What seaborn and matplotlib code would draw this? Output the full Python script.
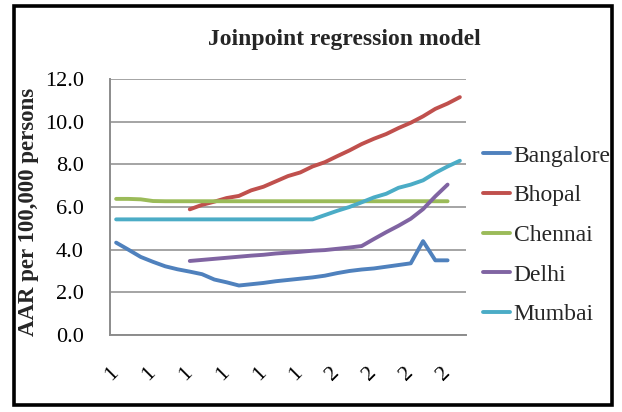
import matplotlib
matplotlib.use("Agg")
import matplotlib.pyplot as plt
import matplotlib.transforms as mtransforms
from matplotlib.patches import Rectangle
import seaborn as sns
import pandas as pd

# Registry years and axis labels
years = list(range(1982, 2011))
tick_years = years[::3]
tick_labels = ["1", "1", "1", "1", "1", "1", "2", "2", "2", "2"]
y_ticks = [0, 2, 4, 6, 8, 10, 12]

# Joinpoint-fitted age-adjusted rates (per 100,000) by registry
bangalore_start = 1982
bangalore = [4.33, 4.00, 3.66, 3.43, 3.22, 3.08, 2.97, 2.85, 2.60, 2.47,
             2.32, 2.38, 2.44, 2.52, 2.58, 2.64, 2.70, 2.78, 2.90, 3.00,
             3.07, 3.12, 3.20, 3.28, 3.36, 4.40, 3.50, 3.50]
bhopal_start = 1988
bhopal = [5.89, 6.10, 6.25, 6.42, 6.52, 6.78, 6.95, 7.20, 7.45, 7.62,
          7.90, 8.10, 8.38, 8.65, 8.95, 9.20, 9.42, 9.70, 9.95, 10.25,
          10.60, 10.85, 11.15]
chennai_start = 1982
chennai = [6.38, 6.38, 6.36, 6.28] + [6.27] * 24
delhi_start = 1988
delhi = [3.47, 3.52, 3.57, 3.62, 3.67, 3.72, 3.76, 3.82, 3.86, 3.90,
         3.95, 3.98, 4.04, 4.10, 4.17, 4.50, 4.82, 5.12, 5.45, 5.90,
         6.50, 7.05]
mumbai_start = 1982
mumbai = [5.42] * 17 + [5.62, 5.82, 6.00, 6.22, 6.45, 6.62, 6.90, 7.05,
                        7.25, 7.60, 7.90, 8.17]

registries = ["Bangalore", "Bhopal", "Chennai", "Delhi", "Mumbai"]
series = [(bangalore_start, bangalore), (bhopal_start, bhopal),
          (chennai_start, chennai), (delhi_start, delhi),
          (mumbai_start, mumbai)]
colors = ["#4F81BD", "#C0504D", "#9BBB59", "#8064A2", "#4BACC6"]

frames = []
for name, (start, vals) in zip(registries, series):
    frames.append(pd.DataFrame({
        "Year": list(range(start, start + len(vals))),
        "AAR": vals,
        "Registry": name,
    }))
df = pd.concat(frames, ignore_index=True)

sns.set_theme(style="white")
plt.rcParams["font.family"] = ["Liberation Serif", "DejaVu Serif"]

W, H = 622, 412
fig = plt.figure(figsize=(W / 100, H / 100), dpi=100)
ax = fig.add_axes([110 / W, 1 - 335 / H, (466 - 110) / W, (335 - 79) / H])

sns.lineplot(data=df, x="Year", y="AAR", hue="Registry",
             hue_order=registries, palette=colors, linewidth=2.8,
             ax=ax, legend=True)
for ln in ax.lines:
    ln.set_solid_capstyle("round")
    ln.set_solid_joinstyle("round")

ax.set_xlim(years[0] - 0.5, years[-1] + 0.5)
ax.set_ylim(0, 12)
ax.set_yticks(y_ticks)
ax.set_yticklabels([f"{v:.1f}" for v in y_ticks], fontsize=16)
ax.set_xticks(tick_years)
ax.set_xticklabels(tick_labels, fontsize=16, rotation=45,
                   ha="center", va="top")
ax.tick_params(axis="both", length=0, colors="black")
ax.tick_params(axis="x", pad=20)
ax.tick_params(axis="y", pad=19)
shift = mtransforms.ScaledTranslation(-4 / 100, 0, fig.dpi_scale_trans)
for lab in ax.get_xticklabels():
    lab.set_transform(lab.get_transform() + shift)

ax.yaxis.grid(True, color="#8C8C8C", linewidth=1.1)
ax.xaxis.grid(False)
for side in ["top", "right"]:
    ax.spines[side].set_visible(False)
for side in ["left", "bottom"]:
    ax.spines[side].set_color("#8C8C8C")
    ax.spines[side].set_linewidth(1.4)

ax.set_xlabel("")
ax.set_ylabel("AAR per 100,000 persons", fontsize=16.5, fontweight="bold")
ax.yaxis.set_label_coords(-(110 - 39) / (466 - 110), 0.48)

fig.text(344 / W, 1 - 40 / H, "Joinpoint regression model", fontsize=17,
         fontweight="bold", ha="center", va="center")

leg = ax.legend(loc="upper left", bbox_to_anchor=(483 / W, 1 - 145 / H),
                bbox_transform=fig.transFigure, frameon=False, fontsize=17,
                handlelength=1.15, handletextpad=0.15, labelspacing=0.77,
                borderpad=0, borderaxespad=0)
for h in leg.get_lines():
    h.set_linewidth(2.8)

fig.patches.append(Rectangle((14 / W, 1 - 405 / H), (612 - 14) / W,
                             (405 - 6) / H, transform=fig.transFigure,
                             fill=False, edgecolor="black", linewidth=2.6))

fig.savefig("out.png", dpi=100)
